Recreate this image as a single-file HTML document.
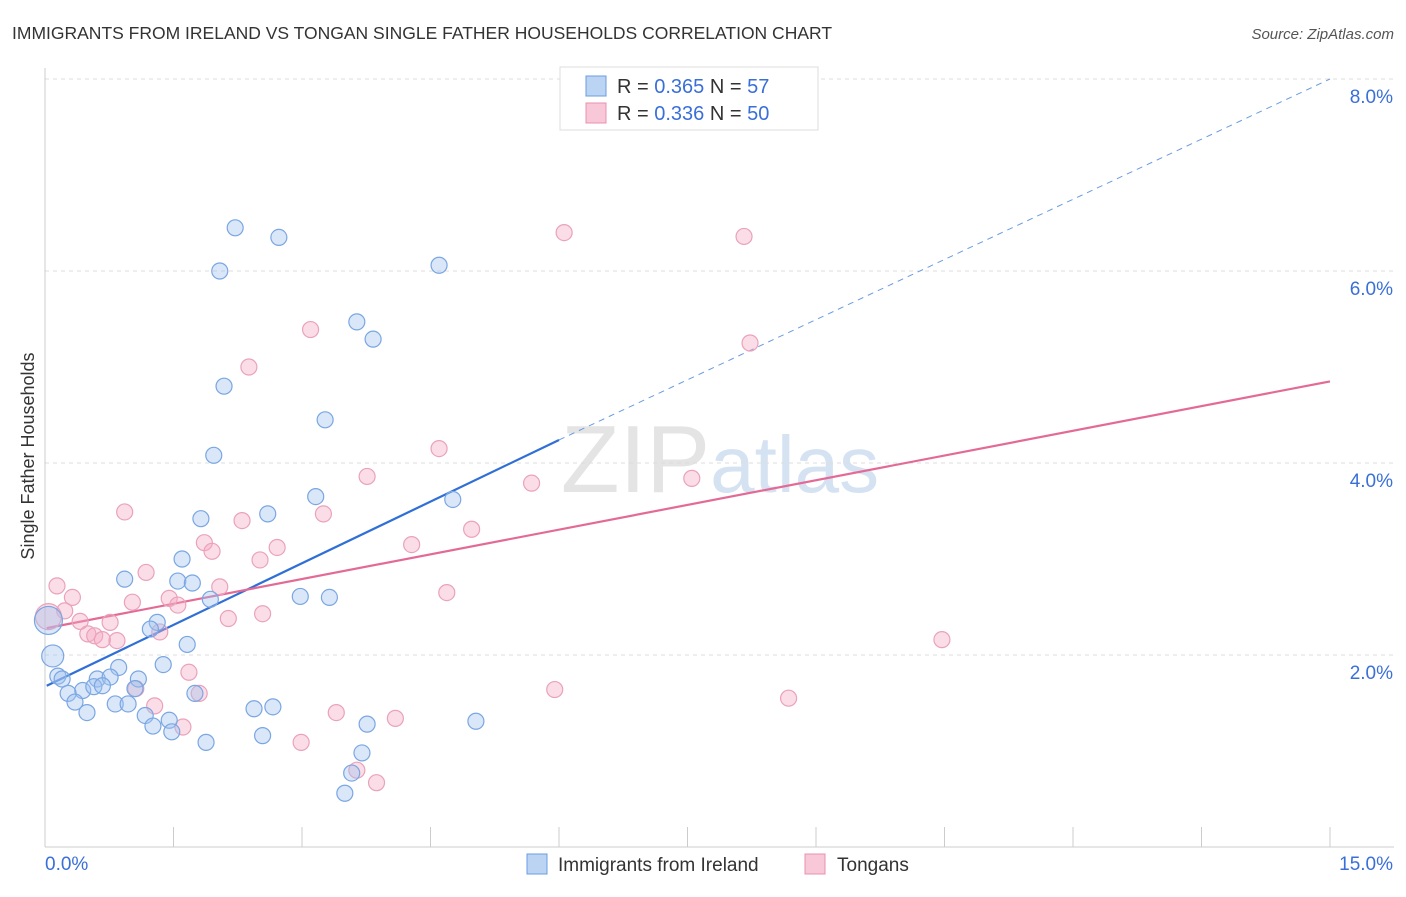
<!DOCTYPE html>
<html><head><meta charset="utf-8"><style>
body{margin:0;background:#fff;font-family:"Liberation Sans",sans-serif;}
svg text{font-family:"Liberation Sans",sans-serif;}
</style></head><body>
<svg id="chart" width="1406" height="892" xmlns="http://www.w3.org/2000/svg">
<text x="12" y="39" font-size="17.5" fill="#333">IMMIGRANTS FROM IRELAND VS TONGAN SINGLE FATHER HOUSEHOLDS CORRELATION CHART</text>
<text x="1394" y="39" font-size="15" fill="#555" text-anchor="end" font-style="italic">Source: ZipAtlas.com</text>
<text x="720" y="492" font-size="96" text-anchor="middle" fill="#e4e4e4" font-family="Liberation Serif">ZIP<tspan fill="#d5e2f2" font-family="Liberation Sans" font-size="80">atlas</tspan></text>
<g id="grid"></g>
<g id="axes"></g>
<g id="lines"></g>
<g id="pts"></g>
<text transform="translate(34,456) rotate(-90)" font-size="18" fill="#333" text-anchor="middle">Single Father Households</text>
<g>
<rect x="560" y="67" width="258" height="63" fill="#fff" stroke="#ddd"/>
<rect x="586" y="76" width="20" height="20" fill="#bcd4f4" stroke="#6a9be0"/>
<rect x="586" y="103" width="20" height="20" fill="#f9c8d8" stroke="#e890ae"/>
<text x="617" y="93" font-size="20" fill="#333">R = <tspan fill="#3a6fd8">0.365</tspan>   N = <tspan fill="#3a6fd8">57</tspan></text>
<text x="617" y="120" font-size="20" fill="#333">R = <tspan fill="#3a6fd8">0.336</tspan>   N = <tspan fill="#3a6fd8">50</tspan></text>
</g>
<g>
<rect x="527" y="854" width="20" height="20" fill="#bcd4f4" stroke="#6a9be0"/>
<text x="558" y="871" font-size="19" fill="#333">Immigrants from Ireland</text>
<rect x="805" y="854" width="20" height="20" fill="#f9c8d8" stroke="#e890ae"/>
<text x="837" y="871" font-size="19" fill="#333">Tongans</text>
</g>
</svg>
<script>
const yTicks=[2,4,6,8];
const xTickLabels=["0.0%","15.0%"];
const blueX=[2.22,2.73,2.04,4.6,3.64,3.83,2.09,3.27,1.97,3.16,4.76,1.82,2.6,0.93,1.6,1.55,1.72,1.93,2.98,3.32,1.31,1.23,1.66,1.38,0.86,0.61,0.76,1.09,0.15,0.2,0.09,0.04,0.44,0.27,0.57,0.67,1.05,1.75,0.35,0.49,0.82,0.97,1.17,1.45,1.26,1.48,1.88,2.44,2.66,2.54,3.76,5.03,3.7,3.58,3.5];
const blueY=[6.45,6.35,6.0,6.06,5.47,5.29,4.8,4.45,4.08,3.65,3.62,3.42,3.47,2.79,3.0,2.77,2.75,2.58,2.61,2.6,2.34,2.27,2.11,1.9,1.87,1.75,1.77,1.75,1.78,1.75,1.99,2.36,1.63,1.6,1.67,1.68,1.65,1.6,1.51,1.4,1.49,1.49,1.37,1.32,1.26,1.2,1.09,1.44,1.46,1.16,1.28,1.31,0.98,0.77,0.56];
const blueR=[8,8,8,8,8,8,8,8,8,8,8,8,8,8,8,8,8,8,8,8,8,8,8,8,8,8,8,8,8,8,11,14,8,8,8,8,8,8,8,8,8,8,8,8,8,8,8,8,8,8,8,8,8,8,8];
const pinkX=[6.06,8.16,8.23,3.1,2.38,4.6,3.76,5.68,7.55,0.93,2.3,3.25,4.98,1.86,1.95,4.28,2.71,2.51,1.18,0.14,2.04,0.32,1.45,1.02,1.55,4.69,2.14,2.54,0.23,0.41,0.76,1.34,0.5,0.58,0.67,0.84,10.47,1.68,1.06,1.8,5.95,8.68,1.28,3.4,4.09,1.61,2.99,3.64,3.87,0.04];
const pinkY=[6.4,6.36,5.25,5.39,5.0,4.15,3.86,3.79,3.84,3.49,3.4,3.47,3.31,3.17,3.08,3.15,3.12,2.99,2.86,2.72,2.71,2.6,2.59,2.55,2.52,2.65,2.38,2.43,2.46,2.35,2.34,2.24,2.22,2.2,2.16,2.15,2.16,1.82,1.65,1.6,1.64,1.55,1.47,1.4,1.34,1.25,1.09,0.8,0.67,2.4];
const blueLine=[0.02,1.68,6.0,4.24,15,8.0];
const pinkLine=[0.02,2.28,15,4.85];
const NS="http://www.w3.org/2000/svg";
const sx=v=>45+v*(1330-45)/15, sy=v=>847-v*96;
function mk(p,t,a){const e=document.createElementNS(NS,t);for(const k in a)e.setAttribute(k,a[k]);document.getElementById(p).appendChild(e);return e;}
yTicks.forEach(t=>{
 const g=mk('grid','line',{x1:45,x2:1394,y1:sy(t),y2:sy(t),stroke:'#ddd','stroke-dasharray':'4,4'});
 
 
 const l=mk('axes','text',{x:1393,y:sy(t)+24,'font-size':19,fill:'#3a6fd8','text-anchor':'end'});
 l.textContent=t.toFixed(1)+'%';
 
 
});
mk('axes','line',{x1:45,x2:45,y1:68,y2:847,stroke:'#ccc'});
mk('axes','line',{x1:45,x2:1394,y1:847,y2:847,stroke:'#ccc'});
for(let i=0;i<=10;i++){const x=sx(i*1.5);const t=mk('axes','line',{x1:x,x2:x,y1:827,y2:847,stroke:'#ccc'});
 
 }
const xl0=mk('axes','text',{x:45,y:870,'font-size':19,fill:'#3a6fd8'});xl0.textContent=xTickLabels[0];


const xl1=mk('axes','text',{x:1393,y:870,'font-size':19,fill:'#3a6fd8','text-anchor':'end'});xl1.textContent=xTickLabels[1];


pinkX.forEach((x,i)=>{const c=mk('pts','circle',{cx:sx(x),cy:sy(pinkY[i]),r:i==pinkX.length-1?13:8,fill:'rgba(246,170,195,0.4)',stroke:'#eaa2bb','stroke-width':1.2});
 
 });
blueX.forEach((x,i)=>{const c=mk('pts','circle',{cx:sx(x),cy:sy(blueY[i]),r:blueR[i],fill:'rgba(160,195,240,0.4)',stroke:'#7aa6e2','stroke-width':1.2});
 
 });
const b1=mk('lines','line',{x1:sx(blueLine[0]),y1:sy(blueLine[1]),x2:sx(blueLine[2]),y2:sy(blueLine[3]),stroke:'#2f6fd6','stroke-width':2.2});


const b2=mk('lines','line',{x1:sx(blueLine[2]),y1:sy(blueLine[3]),x2:sx(blueLine[4]),y2:sy(blueLine[5]),stroke:'#6a9be0','stroke-width':1,'stroke-dasharray':'6,5'});


const p1=mk('lines','line',{x1:sx(pinkLine[0]),y1:sy(pinkLine[1]),x2:sx(pinkLine[2]),y2:sy(pinkLine[3]),stroke:'#e46a96','stroke-width':2.2});


</script>
</body></html>
